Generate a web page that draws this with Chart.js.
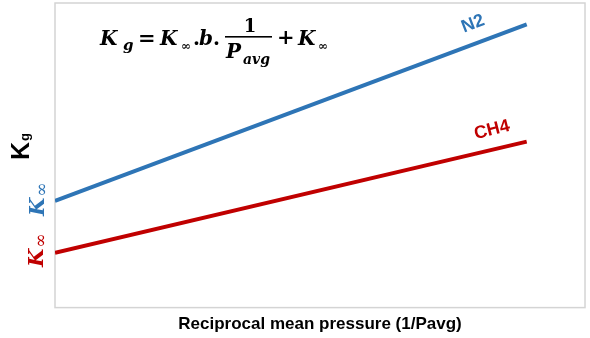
<!DOCTYPE html>
<html>
<head>
<meta charset="utf-8">
<script src="https://cdn.jsdelivr.net/npm/chart.js@4/dist/chart.umd.min.js"></script>
<style>
  html, body { margin: 0; padding: 0; background: #ffffff; }
  #wrap { width: 590px; height: 338px; }
</style>
</head>
<body>
<div id="wrap"><canvas id="c" width="590" height="338"></canvas></div>
<script>
// ---- data (arbitrary units) ----
const xValues = [0, 89];          // reciprocal mean pressure (1/Pavg)
const n2Values = [35, 93];        // Kg for N2
const ch4Values = [18, 54.5];     // Kg for CH4
const seriesLabels = ['N2', 'CH4'];
const xTitle = 'Reciprocal mean pressure (1/Pavg)';

const BLUE = '#2e75b6';
const RED = '#c00000';

const toPoints = (xs, ys) => xs.map((x, i) => ({ x: x, y: ys[i] }));

const annotate = {
  id: 'annotate',
  beforeDatasetsDraw(chart) {
    const ctx = chart.ctx;
    const a = chart.chartArea;
    ctx.save();
    ctx.strokeStyle = '#d4d4d4';
    ctx.lineWidth = 1.5;
    ctx.strokeRect(a.left, a.top, a.right - a.left, a.bottom - a.top);
    ctx.restore();
  },
  afterDraw(chart) {
    const ctx = chart.ctx;
    ctx.save();
    ctx.fillStyle = '#000';
    ctx.textBaseline = 'alphabetic';
    ctx.textAlign = 'left';
    const serifBI = s => 'italic bold ' + s + 'px "DejaVu Serif", "Liberation Serif", serif';
    const serifB = s => 'bold ' + s + 'px "DejaVu Serif", "Liberation Serif", serif';
    const serifN = s => s + 'px "DejaVu Serif", "Liberation Serif", serif';
    const t = (txt, x, y, font) => { ctx.font = font; ctx.fillText(txt, x, y); };
    // formula
    t('K', 100, 45, serifBI(20));
    t('g', 123, 50, serifBI(15));
    t('=', 138, 45, serifB(21));
    t('K', 160, 45, serifBI(20));
    t('\u221E', 181, 50, serifB(12));
    t('.', 193, 45, serifB(20));
    t('b', 199, 45, serifBI(20));
    t('.', 213, 45, serifB(20));
    ctx.textAlign = 'center';
    t('1', 250, 32, serifB(18));
    ctx.textAlign = 'left';
    ctx.fillRect(225, 36, 47, 1.6);
    t('P', 226, 58, serifBI(20));
    t('avg', 243, 64, serifBI(14));
    t('+', 277, 44, serifB(21));
    t('K', 298, 45, serifBI(20));
    t('\u221E', 318, 50, serifB(12));

    // y-axis title "Kg" rotated
    ctx.save();
    ctx.translate(29, 160);
    ctx.rotate(-Math.PI / 2);
    ctx.font = 'bold 25px "Liberation Sans", Arial, sans-serif';
    ctx.fillText('K', 0, 0);
    const kw = ctx.measureText('K').width;
    ctx.font = 'bold 13px "Liberation Sans", Arial, sans-serif';
    ctx.fillText('g', kw + 1, 0);
    ctx.restore();

    // K-infinity intercept labels
    const kinf = (x, y, color) => {
      ctx.save();
      ctx.translate(x, y);
      ctx.rotate(-Math.PI / 2);
      ctx.fillStyle = color;
      ctx.font = serifBI(21);
      ctx.fillText('K', 0, 0);
      const w = ctx.measureText('K').width;
      ctx.font = serifN(17);
      ctx.fillText('\u221E', w + 1, 3);
      ctx.restore();
    };
    kinf(44, 216, BLUE);
    kinf(43, 267, RED);

    // series labels
    const lab = (txt, x, y, ang, color) => {
      ctx.save();
      ctx.translate(x, y);
      ctx.rotate(ang * Math.PI / 180);
      ctx.fillStyle = color;
      ctx.font = 'bold 18px "Liberation Sans", Arial, sans-serif';
      ctx.textAlign = 'center';
      ctx.textBaseline = 'middle';
      ctx.fillText(txt, 0, 0);
      ctx.restore();
    };
    lab(seriesLabels[0], 473, 24, -21, BLUE);
    lab(seriesLabels[1], 492, 130, -14, RED);
    ctx.restore();
  }
};

new Chart(document.getElementById('c'), {
  type: 'line',
  data: {
    datasets: [
      { label: seriesLabels[0], data: toPoints(xValues, n2Values), borderColor: BLUE, borderWidth: 4, pointRadius: 0, tension: 0, fill: false },
      { label: seriesLabels[1], data: toPoints(xValues, ch4Values), borderColor: RED, borderWidth: 4, pointRadius: 0, tension: 0, fill: false }
    ]
  },
  options: {
    responsive: false,
    animation: false,
    events: [],
    layout: { padding: { left: 55, right: 5, top: 3, bottom: 3 } },
    plugins: { legend: { display: false }, tooltip: { enabled: false } },
    scales: {
      x: {
        type: 'linear', min: 0, max: 100,
        grid: { display: false, drawTicks: false },
        border: { display: false },
        ticks: { display: false },
        title: {
          display: true, text: xTitle, color: '#000',
          font: { family: '"Liberation Sans", Arial, sans-serif', size: 17, weight: 'bold' },
          padding: { top: 7, bottom: 0 }
        }
      },
      y: {
        display: false, min: 0, max: 100
      }
    }
  },
  plugins: [annotate]
});
</script>
</body>
</html>
